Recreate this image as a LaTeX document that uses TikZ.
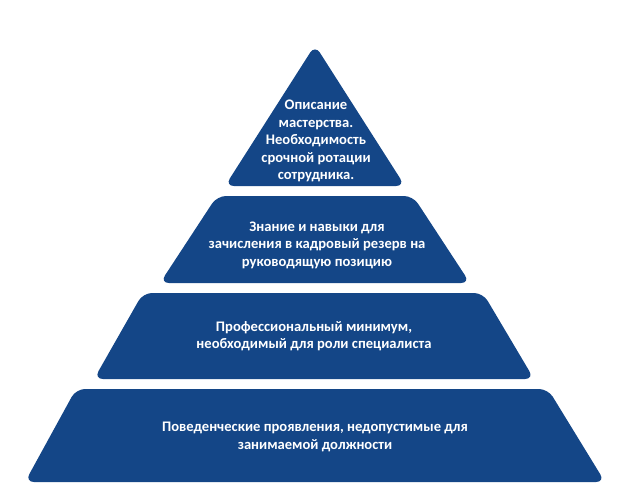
\documentclass[tikz,border=0pt]{standalone}
\usepackage{fontspec}
\setmainfont{Carlito}
\definecolor{pyr}{RGB}{20,70,135}
\begin{document}
\begin{tikzpicture}[x=1pt,y=-1pt,
  tier/.style={fill=pyr, rounded corners=9pt},
  lbl/.style={text=white, font=\bfseries\fontsize{14.6}{17.5}\selectfont, align=center, inner sep=0pt}]
\useasboundingbox (0,0) rectangle (622,485);
% tier 1 (top)
\fill[tier] (315,186) -- (405,186) -- (315,45) -- (225,186) -- cycle;
% tier 2
\fill[tier] (315,283) -- (470,283) -- (413,196) -- (217,196) -- (160,283) -- cycle;
% tier 3
\fill[tier] (314,379) -- (534,379) -- (483,293) -- (143,293) -- (94,379) -- cycle;
% tier 4 (bottom)
\fill[tier] (315,482) -- (605,482) -- (548,389) -- (76,389) -- (25,482) -- cycle;
\node[lbl] (t1) at (316,141) {Описание\\мастерства.\\Необходимость\\срочной ротации\\сотрудника.};
\node[lbl] (t2) at (317,245) {Знание и навыки для\\зачисления в кадровый резерв на\\руководящую позицию};
\node[lbl] (t3) at (314,336) {Профессиональный минимум,\\необходимый для роли специалиста};
\node[lbl] (t4) at (315,437) {Поведенческие проявления, недопустимые для\\занимаемой должности};
\end{tikzpicture}
\end{document}
